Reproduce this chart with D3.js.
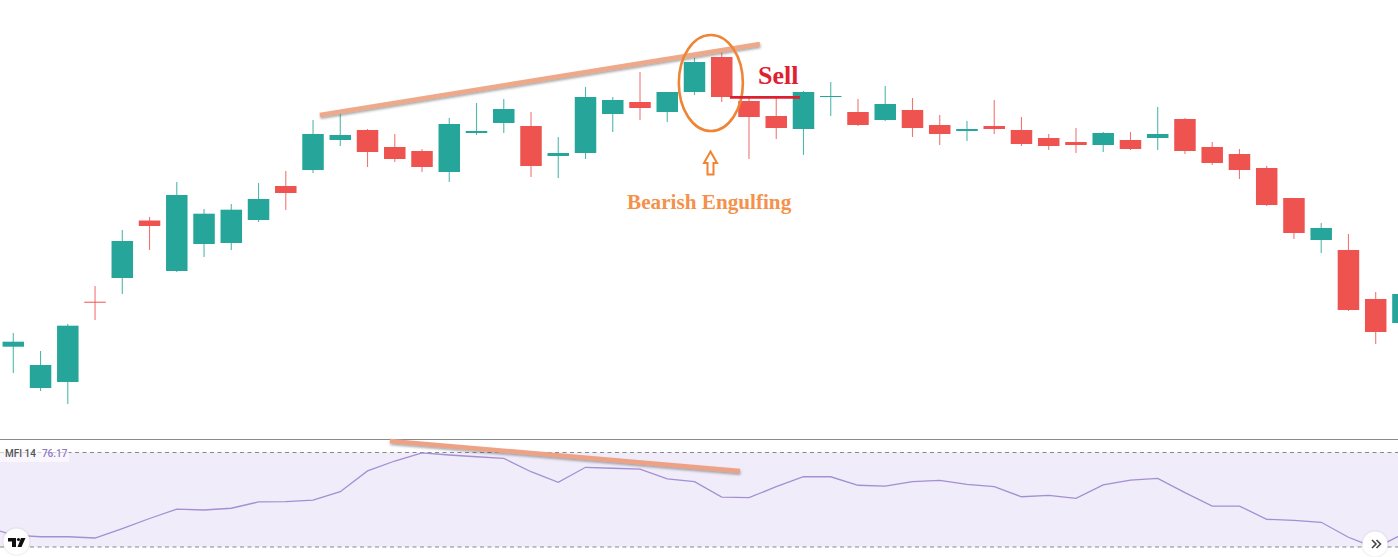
<!DOCTYPE html>
<html><head><meta charset="utf-8">
<script src="https://cdn.jsdelivr.net/npm/d3@7"></script>
<style>html,body{margin:0;padding:0;background:#fff;overflow:hidden}svg{display:block}</style>
</head><body><svg id="c" width="1398" height="557"></svg>
<script>
const opens =[93.3,52,58,138.3,162,219.5,169,196,197,220,254,270,300,310,293,289,268,307,317,314,284,287,326,338,328,348,383,339,324,311,343,328,320,330,315,309,314,310,302,298,295,300,302,321,293,286,272,242,200,190,141,117];
const closes=[98.3,75,114.3,137.3,199,214,245,226.3,230.3,241,247,306,305,288,281,273,316,309,331,274,287,343,340,332,348,378,343,323,312,348,344,315,336,312,306,311,311,296,294,295,307,291,306,289,277,270,235,207,212,130,108,146];
const highs =[107,89,116,154,210,223,258,231,236,257,269,320,327,311,306,291,322,337,341,328,303,353,343,368,348,382,392,342,342,349,358,341,354,342,325,319,340,323,306,312,308,308,333,322,298,291,274,242,217,206,148,152];
const lows  =[67,49,36,120,146,190,168,183,190,218,230,267,294,273,278,268,258,305,307,263,262,281,308,320,318,345,338,281,301,285,324,314,319,303,295,299,306,294,290,287,288,290,290,286,275,261,234,201,187,129,96,112];
const mfiValues=[32.7,27.6,26.5,26.5,25.7,31.7,38.1,44.1,43.5,44.6,48.6,48.8,49.8,55.1,68.3,74.6,79.7,78.4,77.3,76.3,67.8,61.1,70.6,70,69.5,63.2,61.5,51.7,51.3,58.3,64.6,64.6,59.2,58.7,61.5,62.3,59.8,58.3,51.9,52.8,50.9,59.4,62.5,63.6,54.5,46,46,37.6,36.9,35.7,26.2,19.4,28.2];
const mfiBands=[80,20];
const mfiLabel="MFI 14", mfiReadout="76.17";
const priceTrend=[[11.25,325],[27.4,396]];
const mfiTrend=[[13.82,87.3],[26.67,68.25]];
const sellLine=[[26.3,342.6],[28.87,342.6]];
const patternCircle={i:25.6,p:357,ri:1.175,rp:48};
const sellText="Sell", patternText="Bearish Engulfing";

const GREEN="#26a69a",RED="#ef5350";
const svg=d3.select("#c");
const x=d3.scaleLinear([0,50],[13.3,1375.7]);
const y=d3.scaleLinear([0,440],[440,0]);
const m=d3.scaleLinear([20,80],[547,452.5]);
const bw=21.5;
const defs=svg.append("defs");
const f=defs.append("filter").attr("id","sh").attr("x","-5%").attr("y","-200%").attr("width","110%").attr("height","500%").attr("filterUnits","objectBoundingBox");
f.append("feDropShadow").attr("dx",0.5).attr("dy",1.8).attr("stdDeviation",1.2).attr("flood-color","#555").attr("flood-opacity",0.5);
const s2=defs.append("filter").attr("id","btn").attr("x","-30%").attr("y","-30%").attr("width","160%").attr("height","160%");
s2.append("feDropShadow").attr("dx",0).attr("dy",0).attr("stdDeviation",1.2).attr("flood-color","#888").attr("flood-opacity",0.4);
const soft=defs.append("filter").attr("id","soft");
soft.append("feGaussianBlur").attr("stdDeviation",0.3);

// MFI pane
svg.append("rect").attr("x",0).attr("width",1398).attr("y",m(80)).attr("height",m(20)-m(80)).attr("fill","#f0ecfa");
svg.append("line").attr("x1",0).attr("x2",1398).attr("y1",439.5).attr("y2",439.5).attr("stroke","#8a8a8a").attr("stroke-width",1);
svg.selectAll(".band").data(mfiBands).join("line").attr("class","band")
  .attr("x1",0).attr("x2",1398).attr("y1",d=>m(d)).attr("y2",d=>m(d))
  .attr("stroke","#888").attr("stroke-width",1).attr("stroke-dasharray","4 3.5");
svg.append("path").datum(mfiValues)
  .attr("d",d3.line().x((d,i)=>x(i-1)).y(d=>m(d)))
  .attr("fill","none").attr("stroke","#a48fd3").attr("stroke-width",1.3);
svg.append("rect").attr("x",0).attr("y",448).attr("width",69).attr("height",14).attr("fill","#fff").attr("opacity",0.6);
const lab=svg.append("text").attr("x",5).attr("y",456.8).attr("font-family","Roboto,sans-serif").attr("font-size",10).attr("font-weight",500);
lab.append("tspan").attr("fill","#555").text(mfiLabel);
lab.append("tspan").attr("dx",6).attr("fill","#8f7cc4").text(mfiReadout);

// Candles
const candles=d3.range(opens.length).map(i=>({i,o:opens[i],c:closes[i],h:highs[i],l:lows[i]}));
const g=svg.append("g").attr("filter","url(#soft)");
const col=d=>d.c>=d.o?GREEN:RED;
g.selectAll(".w").data(candles).join("line").attr("class","w")
  .attr("x1",d=>x(d.i)).attr("x2",d=>x(d.i)).attr("y1",d=>y(d.h)).attr("y2",d=>y(d.l))
  .attr("stroke",col).attr("stroke-width",1.1).attr("stroke-opacity",0.8);
g.selectAll(".b").data(candles).join("rect").attr("class","b")
  .attr("x",d=>x(d.i)-bw/2).attr("width",bw)
  .attr("y",d=>y(Math.max(d.o,d.c))).attr("height",d=>Math.abs(y(d.o)-y(d.c)))
  .attr("fill",col);

// Annotations
const ln=d3.line();
svg.append("path").attr("d",ln(priceTrend.map(d=>[x(d[0]),y(d[1])])))
  .attr("stroke","#eea98a").attr("stroke-width",4.5).attr("fill","none").attr("filter","url(#sh)");
svg.append("path").attr("d",ln(mfiTrend.map(d=>[x(d[0]),m(d[1])])))
  .attr("stroke","#eea285").attr("stroke-width",4.5).attr("fill","none").attr("filter","url(#sh)");
svg.append("ellipse").attr("cx",x(patternCircle.i)).attr("cy",y(patternCircle.p))
  .attr("rx",x(patternCircle.ri)-x(0)).attr("ry",patternCircle.rp)
  .attr("fill","none").attr("stroke","#ee8434").attr("stroke-width",2.6);
svg.append("path").attr("d",ln(sellLine.map(d=>[x(d[0]),y(d[1])])))
  .attr("stroke","#dd2030").attr("stroke-width",2.6).attr("fill","none");
svg.append("text").attr("x",758).attr("y",83.5).attr("font-family","'Liberation Serif',serif").attr("font-weight","bold").attr("font-size",26).attr("fill","#e0202f").text(sellText);
svg.append("text").attr("x",627).attr("y",209).attr("font-family","'Liberation Serif',serif").attr("font-weight","bold").attr("font-size",21.2).attr("fill","#f4914a").text(patternText);
svg.append("path").attr("d","M710.5 151.5L717 163H713.5V174.5H707.5V163H704Z").attr("fill","#fff").attr("stroke","#ee8434").attr("stroke-width",2);

// Chart buttons
svg.append("circle").attr("cx",16.5).attr("cy",541.5).attr("r",13).attr("fill","#fff").attr("filter","url(#btn)");
svg.append("path").attr("d","M8 538H16V547H12V541.5H8ZM21 538H25.5L21.5 547H17.5Z").attr("fill","#111");
svg.append("circle").attr("cx",18.5).attr("cy",539.5).attr("r",1.6).attr("fill","#111");
svg.append("circle").attr("cx",1375).attr("cy",544).attr("r",12.5).attr("fill","#fff").attr("filter","url(#btn)");
svg.append("path").attr("d","M1372 540L1376 544L1372 548M1376.5 540L1380.5 544L1376.5 548").attr("fill","none").attr("stroke","#444").attr("stroke-width",1.6);
</script></body></html>
